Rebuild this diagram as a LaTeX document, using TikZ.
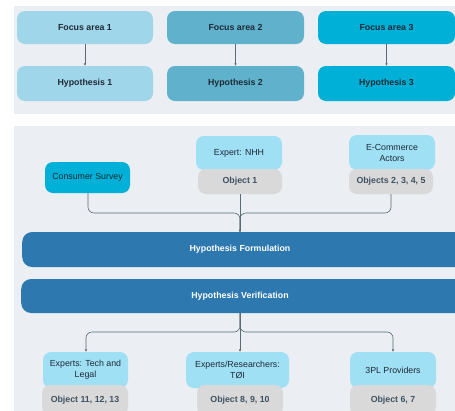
\documentclass[tikz,border=0pt]{standalone}
\usepackage{fontspec}
\setmainfont{Liberation Sans}
\usetikzlibrary{arrows.meta}
\definecolor{panelbg}{HTML}{EBEEF2}
\definecolor{fa1}{HTML}{A0D6E9}
\definecolor{fa2}{HTML}{5FB1CC}
\definecolor{fa3}{HTML}{00B0D6}
\definecolor{ltblue}{HTML}{9FE0F5}
\definecolor{grayb}{HTML}{D9D9D9}
\definecolor{barblue}{HTML}{2E78B0}
\definecolor{txtdark}{HTML}{1E2A36}
\definecolor{txtgray}{HTML}{3F5262}
\definecolor{linec}{HTML}{5A6A77}
\tikzset{
  box/.style={rounded corners=8pt, inner sep=0pt, font=\fontsize{8.8}{11}\selectfont, text=txtdark, align=center},
  focusbox/.style={box, font=\bfseries\fontsize{8.8}{10.5}\selectfont},
  graybox/.style={box, fill=grayb, text=txtgray, font=\bfseries\fontsize{8.8}{10.5}\selectfont},
  bar/.style={rounded corners=10pt, fill=barblue, text=white, inner sep=0pt},
  bartext/.style={font=\bfseries\fontsize{8.8}{10.5}\selectfont, text=white},
  conn/.style={draw=linec, line width=0.6pt, rounded corners=6pt},
  arr/.style={conn, -{Latex[length=2.5pt,width=2.5pt]}}
}
\begin{document}
\begin{tikzpicture}[x=1pt,y=-1pt]
\useasboundingbox (0,0) rectangle (455,410);
\clip (0,0) rectangle (455,410);
% panels
\fill[panelbg] (14,6) rectangle (460,114);
\fill[panelbg] (14,126) rectangle (460,415);
% top panel
\node[focusbox, fill=fa1, minimum width=136pt, minimum height=33pt] (f1) at (85,27.5) {Focus area 1};
\node[focusbox, fill=fa2, minimum width=137pt, minimum height=33pt] (f2) at (235.5,27.5) {Focus area 2};
\node[focusbox, fill=fa3, minimum width=137pt, minimum height=33pt] (f3) at (386.5,27.5) {Focus area 3};
\node[focusbox, fill=fa1, minimum width=136pt, minimum height=35pt] (h1) at (85,83.5) {Hypothesis 1};
\node[focusbox, fill=fa2, minimum width=137pt, minimum height=35pt] (h2) at (235.5,83.5) {Hypothesis 2};
\node[focusbox, fill=fa3, minimum width=137pt, minimum height=35pt] (h3) at (386.5,83.5) {Hypothesis 3};
\draw[arr] (f1) -- (h1);
\draw[arr] (f2) -- (h2);
\draw[arr] (f3) -- (h3);
% bottom panel, sources
\node[box, fill=fa3, minimum width=85pt, minimum height=31pt] (cs) at (87.5,177.5) {Consumer Survey};
\node[box, fill=ltblue, minimum width=86pt, minimum height=34pt] (nhh) at (239,153) {Expert: NHH};
\node[graybox, minimum width=84pt, minimum height=25pt] (o1) at (240,181.5) {Object 1};
\node[box, fill=ltblue, minimum width=86pt, minimum height=35pt] (eca) at (392,152.5) {E-Commerce\\Actors};
\node[graybox, minimum width=84pt, minimum height=25pt] (o2) at (391,181.5) {Objects 2, 3, 4, 5};
% bars
\node[bar, minimum width=460pt, minimum height=35pt, anchor=west] (hf) at (22,249.5) {};
\node[bartext] (hft) at (240,249.5) {Hypothesis Formulation};
\node[bar, minimum width=460pt, minimum height=34pt, anchor=west] (hv) at (21,296) {};
\node[bartext] (hvt) at (240,296) {Hypothesis Verification};
% connectors in
\coordinate (jin) at (240,213);
\coordinate (hftop) at (240,232);
\draw[conn] (cs.south -| 88,0) |- (jin) -- (hftop);
\draw[conn] (o2.south) |- (jin) -- (hftop);
\draw[arr] (o1.south) -- (hftop);
% targets
\node[box, fill=ltblue, minimum width=85pt, minimum height=36pt] (etl) at (85.5,370) {Experts: Tech and\\Legal};
\node[graybox, minimum width=86pt, minimum height=30pt] (o11) at (85,400) {Object 11, 12, 13};
\node[box, fill=ltblue, minimum width=103pt, minimum height=36pt] (toi) at (237.5,370) {Experts/Researchers:\\TØI};
\node[graybox, minimum width=86pt, minimum height=30pt] (o8) at (240,400) {Object 8, 9, 10};
\node[box, fill=ltblue, minimum width=86pt, minimum height=36pt] (tpl) at (393,370) {3PL Providers};
\node[graybox, minimum width=86pt, minimum height=30pt] (o6) at (393,400) {Object 6, 7};
% connectors out
\coordinate (hvbot) at (240,313);
\coordinate (jout) at (240,332);
\draw[arr] (hvbot) -- (jout) -| (etl.north -| 86,0);
\draw[arr] (hvbot) -- (toi.north -| 240,0);
\draw[arr] (hvbot) -- (jout) -| (tpl.north);
\end{tikzpicture}
\end{document}
